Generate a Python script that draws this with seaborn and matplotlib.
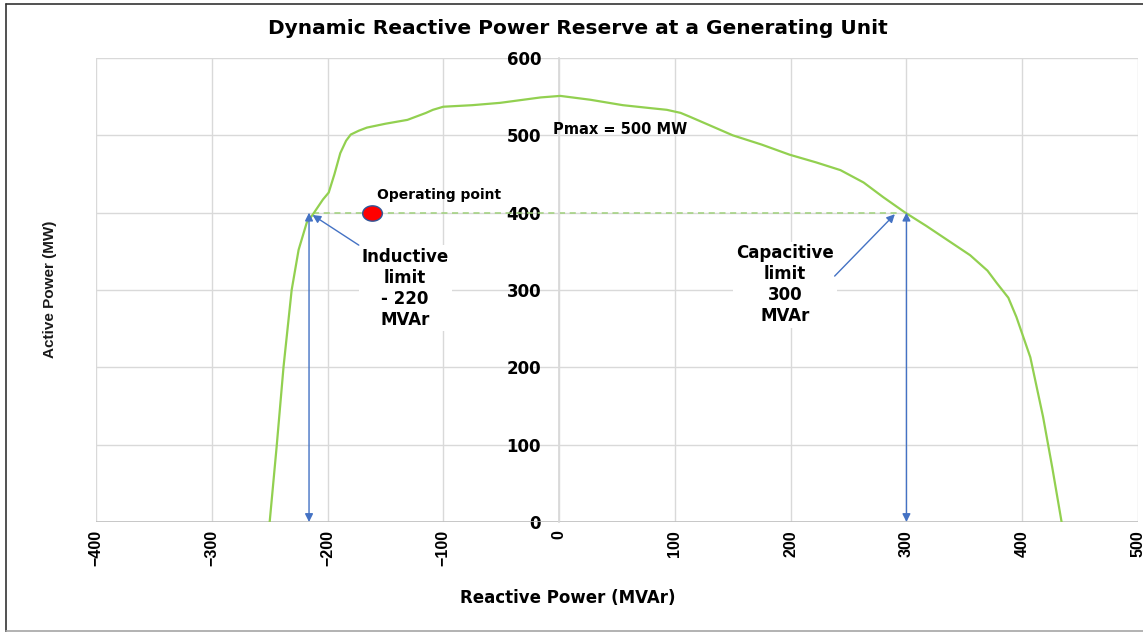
import numpy as np
import pandas as pd
import matplotlib
matplotlib.use("Agg")
import matplotlib.pyplot as plt
from matplotlib.path import Path
from matplotlib.lines import Line2D
import seaborn as sns

# ---- data ----
reactive_q = [-250, -244, -238, -231, -225, -218, -213, -204, -199, -194, -189, -184, -180,
              -173, -166, -150, -131, -115, -109, -100, -75, -51, -16, 1, 27, 55, 80, 93,
              105, 113, 130, 150, 175, 199, 222, 243, 263, 280, 299, 317, 335, 355, 370,
              378, 388, 395, 407, 418, 426, 434]
active_p = [0, 97, 201, 300, 352, 387, 397, 417, 426, 450, 477, 493, 501,
            506, 510, 515, 520, 529, 533, 537, 539, 542, 549, 551, 546, 539, 535, 533,
            529, 524, 513, 500, 488, 475, 465, 455, 439, 420, 400, 383, 365, 345, 325,
            309, 290, 265, 213, 136, 70, 0]
operating_q = [-162]
operating_p = [400]
inductive_limit = -216
capacitive_limit = 300
limit_p = 400
x_ticks = [-400, -300, -200, -100, 0, 100, 200, 300, 400, 500]
y_ticks = [0, 100, 200, 300, 400, 500, 600]

curve = pd.DataFrame({"q": reactive_q, "p": active_p})
op = pd.DataFrame({"q": operating_q, "p": operating_p})

sns.set_theme(style="white")
plt.rcParams["font.family"] = ["DejaVu Sans"]

fig = plt.figure(figsize=(11.43, 6.32), dpi=100)
ax = fig.add_axes([96 / 1143, 1 - 522 / 632, (1138 - 96) / 1143, (522 - 58) / 632])

GREEN = "#92d050"
BLUE = "#4472c4"
GRID = "#d9d9d9"

sns.lineplot(data=curve, x="q", y="p", sort=False, estimator=None, color=GREEN,
             linewidth=1.6, ax=ax, zorder=3)

# dashed reference line at operating level
ax.plot([-213, 292], [limit_p, limit_p], color="#9fd07a", lw=1.1, dashes=(4, 3), zorder=2)

# operating point (ellipse marker)
t = np.linspace(0, 2 * np.pi, 60)
ell = Path(np.column_stack([np.cos(t), 0.78 * np.sin(t)]))
sns.scatterplot(data=op, x="q", y="p", marker=ell, s=200, color="#ff0000",
                edgecolor="#2f5597", linewidth=1, ax=ax, zorder=5)

ax.set_xlim(-400, 500)
ax.set_ylim(0, 600)
ax.set_xticks(x_ticks)
ax.set_yticks(y_ticks)
ax.grid(True, color=GRID, lw=1)
ax.set_axisbelow(True)
for s in ["top", "right", "bottom"]:
    ax.spines[s].set_visible(False)
ax.spines["left"].set_position(("data", 0))
ax.spines["left"].set_color(GRID)
ax.axhline(0, color="#bfbfbf", lw=1.2, zorder=1)

ax.tick_params(axis="both", length=0)
ax.tick_params(axis="x", pad=6)
ax.tick_params(axis="y", pad=13)
for lab in ax.get_xticklabels():
    lab.set_rotation(90)
    lab.set_fontfamily(["Liberation Sans", "DejaVu Sans"])
    lab.set_fontweight("bold")
    lab.set_fontsize(11.5)
    lab.set_color("black")
for lab in ax.get_yticklabels():
    lab.set_fontfamily(["DejaVu Sans"])
    lab.set_fontweight("bold")
    lab.set_fontsize(12)
    lab.set_color("black")

ax.set_xlabel("Reactive Power (MVAr)", fontsize=12, fontweight="bold", color="black")
ax.xaxis.label.set_va("center")
ax.xaxis.set_label_coords((568 - 96) / 1042, (522 - 598) / 464)
ax.set_ylabel("Active Power (MW)", fontsize=11, fontweight="bold", color="#1a1a1a",
              family=["Liberation Sans", "DejaVu Sans"])
ax.yaxis.label.set_va("center")
ax.yaxis.set_label_coords((50 - 96) / 1042, (522 - 289) / 464)

fig.text(578 / 1143, 1 - 28 / 632, "Dynamic Reactive Power Reserve at a Generating Unit",
         ha="center", va="center", fontsize=14.5, fontweight="bold", color="black")

# annotations
ax.text(-104, 423, "Operating point", ha="center", va="center", fontsize=10,
        fontweight="bold", color="black")
ax.text(53, 507, "Pmax = 500 MW", ha="center", va="center", fontsize=10.5,
        fontweight="bold", color="black")
ax.text(-133, 302, "Inductive\nlimit\n- 220\nMVAr", ha="center", va="center",
        fontsize=12, fontweight="bold", color="black", linespacing=1.2,
        bbox=dict(facecolor="white", edgecolor="none", pad=2), zorder=4)
ax.text(195, 307, "Capacitive\nlimit\n300\nMVAr", ha="center", va="center",
        fontsize=12, fontweight="bold", color="black", linespacing=1.2,
        bbox=dict(facecolor="white", edgecolor="none", pad=2), zorder=4)

arrow_kw = dict(color=BLUE, lw=1, shrinkA=0, shrinkB=0, mutation_scale=12)
ax.annotate("", xy=(-213, 397), xytext=(-173, 358),
            arrowprops=dict(arrowstyle="-|>", **arrow_kw), zorder=6)
ax.annotate("", xy=(290, 398), xytext=(238, 318),
            arrowprops=dict(arrowstyle="-|>", **arrow_kw), zorder=6)
ax.annotate("", xy=(inductive_limit, limit_p), xytext=(inductive_limit, 0),
            arrowprops=dict(arrowstyle="<|-|>", **arrow_kw), zorder=6)
ax.annotate("", xy=(capacitive_limit, limit_p), xytext=(capacitive_limit, 0),
            arrowprops=dict(arrowstyle="<|-|>", **arrow_kw), zorder=6)

# outer frame
fig.add_artist(Line2D([6 / 1143, 6 / 1143], [0, 1 - 4 / 632], transform=fig.transFigure,
                      color="#333333", lw=1.2))
fig.add_artist(Line2D([6 / 1143, 1], [1 - 4 / 632, 1 - 4 / 632], transform=fig.transFigure,
                      color="#333333", lw=1.2))
fig.add_artist(Line2D([6 / 1143, 1], [1.5 / 632, 1.5 / 632], transform=fig.transFigure,
                      color="#a6a6a6", lw=1.2))

fig.savefig("out.png", dpi=100)
